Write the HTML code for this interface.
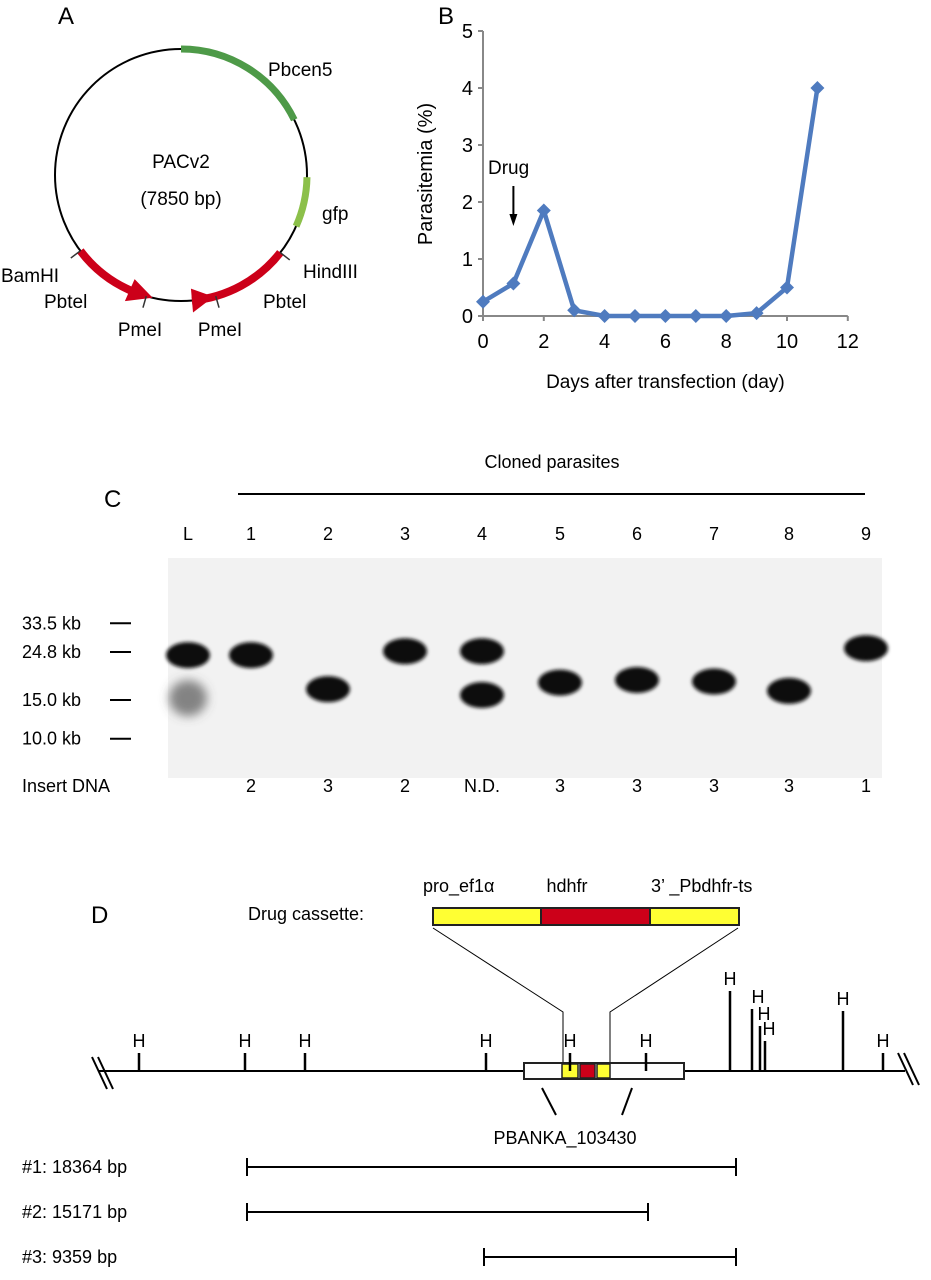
<!DOCTYPE html>
<html><head><meta charset="utf-8"><style>
body{margin:0;background:#fff}
svg{display:block;font-family:"Liberation Sans",sans-serif}
</style></head><body>
<svg id="fig" width="931" height="1280" viewBox="0 0 931 1280">
<defs>
<filter id="blur" x="-50%" y="-50%" width="200%" height="200%"><feGaussianBlur stdDeviation="1.8"/></filter>
<filter id="blur2" x="-50%" y="-50%" width="200%" height="200%"><feGaussianBlur stdDeviation="5"/></filter>
</defs>
<g id="panelA">
<text x="58" y="24" font-size="24">A</text>
</g>
<g id="panelB">
<text x="438" y="24" font-size="24">B</text>
</g>
<g id="panelC">
<text x="104" y="507" font-size="24">C</text>
<text x="552" y="468" font-size="18" text-anchor="middle">Cloned parasites</text>
<line x1="238" y1="494" x2="865" y2="494" stroke="#000" stroke-width="2"/>
<rect x="168" y="558" width="714" height="220" fill="#f2f2f2"/>
<text x="22" y="792" font-size="18">Insert DNA</text>
</g>
<g id="panelD">
<text x="91" y="923" font-size="24">D</text>
<text x="248" y="920" font-size="18">Drug cassette:</text>
<text x="423" y="892" font-size="18">pro_ef1α</text>
<text x="567" y="892" font-size="18" text-anchor="middle">hdhfr</text>
<text x="651" y="892" font-size="18">3’ _Pbdhfr-ts</text>
<rect x="433" y="908" width="108" height="17" fill="#ffff33" stroke="#222" stroke-width="2"/>
<rect x="541" y="908" width="109" height="17" fill="#cc0019" stroke="#222" stroke-width="2"/>
<rect x="650" y="908" width="89" height="17" fill="#ffff33" stroke="#222" stroke-width="2"/>
<polyline points="433,928 563,1012 563,1064" fill="none" stroke="#000" stroke-width="1"/>
<polyline points="738,928 610,1012 610,1064" fill="none" stroke="#000" stroke-width="1"/>
<line x1="98" y1="1071" x2="905" y2="1071" stroke="#000" stroke-width="2"/>
<line x1="92" y1="1057" x2="107" y2="1089" stroke="#000" stroke-width="2"/>
<line x1="98" y1="1057" x2="113" y2="1089" stroke="#000" stroke-width="2"/>
<line x1="898" y1="1053" x2="913" y2="1085" stroke="#000" stroke-width="2"/>
<line x1="904" y1="1053" x2="919" y2="1085" stroke="#000" stroke-width="2"/>
<rect x="524" y="1063" width="160" height="16" fill="#fff" stroke="#222" stroke-width="2"/>
<rect x="562" y="1064" width="16" height="14" fill="#ffff33" stroke="#222" stroke-width="1.5"/>
<rect x="580" y="1064" width="15" height="14" fill="#cc0019" stroke="#222" stroke-width="1.5"/>
<rect x="597" y="1064" width="13" height="14" fill="#ffff33" stroke="#222" stroke-width="1.5"/>
<line x1="542" y1="1088" x2="556" y2="1115" stroke="#000" stroke-width="2"/>
<line x1="632" y1="1088" x2="622" y2="1115" stroke="#000" stroke-width="2"/>
<text x="565" y="1144" font-size="18" text-anchor="middle">PBANKA_103430</text>
</g>
<script>
var NS='http://www.w3.org/2000/svg';
var svg=document.getElementById('fig');
function mk(parent,tag,attrs,txt){var e=document.createElementNS(NS,tag);for(var k in attrs)e.setAttribute(k,attrs[k]);if(txt!==undefined)e.textContent=txt;parent.appendChild(e);return e;}

/* ---- Panel B data ---- */
var days=[0,1,2,3,4,5,6,7,8,9,10,11];
var parasitemia=[0.25,0.57,1.85,0.1,0,0,0,0,0,0.05,0.5,4.0];
var xTicks=[0,2,4,6,8,10,12];
var yTicks=[0,1,2,3,4,5];
/* ---- Panel C data ---- */
var laneLabels=['L','1','2','3','4','5','6','7','8','9'];
var insertDNA=['','2','3','2','N.D.','3','3','3','3','1'];
var markerLabels=['33.5 kb','24.8 kb','15.0 kb','10.0 kb'];
var markerSizes=[33.5,24.8,15.0,10.0];
var bandLane=[0,0,1,2,3,4,4,5,6,7,8,9];
var bandSize=[24.0,15.3,24.0,16.8,25.0,25.0,15.8,18.0,18.5,18.2,16.5,25.8];
var bandStrength=[1,0.45,1,1,1,1,1,0.95,1,1,1,1];
/* ---- Panel D data ---- */
var hindPos=[139,245,305,486,570,646,730,752,760,765,843,883];
var hindLen=[18,18,18,18,18,18,80,62,45,30,60,18];
var fragNames=['#1: 18364 bp','#2: 15171 bp','#3: 9359 bp'];
var fragStart=[247,247,484];
var fragEnd=[736,648,736];

/* Panel A */
(function(){
 var g=document.getElementById('panelA');
 var cx=181,cy=175,r=126;
 function pt(a,rr){var t=a*Math.PI/180;return [cx+(rr||r)*Math.cos(t),cy+(rr||r)*Math.sin(t)];}
 function arc(a1,a2,rr){var p1=pt(a1,rr),p2=pt(a2,rr);var sw=a2>a1?1:0;var large=Math.abs(a2-a1)>180?1:0;return 'M'+p1[0]+','+p1[1]+' A'+(rr||r)+','+(rr||r)+' 0 '+large+' '+sw+' '+p2[0]+','+p2[1];}
 var c=mk(g,'circle',{cx:cx,cy:cy,r:r,fill:'none',stroke:'#000','stroke-width':2});
 
 var a=mk(g,'path',{d:arc(-90,-26),fill:'none',stroke:'#4e9a48','stroke-width':7});
 
 a=mk(g,'path',{d:arc(1,24),fill:'none',stroke:'#8cc04a','stroke-width':7});
 
 a=mk(g,'path',{d:arc(143,113),fill:'none',stroke:'#cc0019','stroke-width':8});
 
 var t=pt(103),b1=pt(114,r-12),b2=pt(114,r+12);
 a=mk(g,'polygon',{points:t.join(',')+' '+b1.join(',')+' '+b2.join(','),fill:'#cc0019'});
 
 a=mk(g,'path',{d:arc(38,85),fill:'none',stroke:'#cc0019','stroke-width':8});
 
 t=pt(75);b1=pt(85,r-12);b2=pt(85,r+12);
 a=mk(g,'polygon',{points:t.join(',')+' '+b1.join(',')+' '+b2.join(','),fill:'#cc0019'});
 
 var ticks=[[143],[38],[106],[74]];
 ticks.forEach(function(tk){var p1=pt(tk[0],r),p2=pt(tk[0],r+12);var l=mk(g,'line',{x1:p1[0],y1:p1[1],x2:p2[0],y2:p2[1],stroke:'#333','stroke-width':1.5});
 });
 var labels=[['Pbcen5',268,76,'start'],['PACv2',181,168,'middle'],['(7850 bp)',181,205,'middle'],['gfp',322,220,'start'],['HindIII',303,278,'start'],['Pbtel',263,308,'start'],['BamHI',1,282,'start'],['Pbtel',44,308,'start'],['PmeI',140,336,'middle'],['PmeI',220,336,'middle']];
 labels.forEach(function(L){var e=mk(g,'text',{x:L[1],y:L[2],'font-size':19,'text-anchor':L[3]},L[0]);
 });
})();

/* Panel B */
(function(){
 var g=document.getElementById('panelB');
 function X(v){return 483+v*30.4;}
 function Y(v){return 316-v*57;}
 var ax=mk(g,'line',{x1:X(0),y1:Y(0),x2:X(0),y2:Y(5),stroke:'#888','stroke-width':2});
 
 ax=mk(g,'line',{x1:X(0),y1:Y(0),x2:X(12),y2:Y(0),stroke:'#888','stroke-width':2});
 
 yTicks.forEach(function(v){var l=mk(g,'line',{x1:X(0)-5,y1:Y(v),x2:X(0),y2:Y(v),stroke:'#888','stroke-width':2});
 
 var t=mk(g,'text',{x:X(0)-10,y:Y(v)+7,'font-size':20,'text-anchor':'end'},String(v));
 });
 xTicks.forEach(function(v){var l=mk(g,'line',{x1:X(v),y1:Y(0),x2:X(v),y2:Y(0)+5,stroke:'#888','stroke-width':2});
 
 var t=mk(g,'text',{x:X(v),y:Y(0)+32,'font-size':20,'text-anchor':'middle'},String(v));
 });
 var t=mk(g,'text',{x:X(6),y:388,'font-size':19,'text-anchor':'middle'},'Days after transfection (day)');
 
 t=mk(g,'text',{x:0,y:0,'font-size':20,'text-anchor':'middle',transform:'translate(432,174) rotate(-90)'},'Parasitemia (%)');
 
 var pts=days.map(function(d,i){return X(d)+','+Y(parasitemia[i]);}).join(' ');
 var pl=mk(g,'polyline',{points:pts,fill:'none',stroke:'#4f7bbf','stroke-width':4.5,'stroke-linejoin':'round'});
 
 days.forEach(function(d,i){var x=X(d),y=Y(parasitemia[i]);var m=mk(g,'polygon',{points:(x)+','+(y-7)+' '+(x+7)+','+y+' '+x+','+(y+7)+' '+(x-7)+','+y,fill:'#4f7bbf'});
 });
 t=mk(g,'text',{x:488,y:174,'font-size':19},'Drug');
 
 var l=mk(g,'line',{x1:X(1),y1:186,x2:X(1),y2:220,stroke:'#000','stroke-width':2});
 
 mk(g,'polygon',{points:(X(1)-4)+',214 '+(X(1)+4)+',214 '+X(1)+',226',fill:'#000'});
})();

/* Panel C */
(function(){
 var g=document.getElementById('panelC');
 var laneX=[188,251,328,405,482,560,637,714,789,866];
 function Ykb(s){return 700-(Math.log(s)-Math.log(15))/(Math.log(24.8)-Math.log(15))*48;}
 laneLabels.forEach(function(L,i){var t=mk(g,'text',{x:laneX[i],y:540,'font-size':18,'text-anchor':'middle'},L);
 
 var d=mk(g,'text',{x:laneX[i],y:792,'font-size':18,'text-anchor':'middle'},insertDNA[i]);
 });
 markerLabels.forEach(function(L,i){var y=Ykb(markerSizes[i]);
 var t=mk(g,'text',{x:22,y:y+6,'font-size':18},L);
 
 var l=mk(g,'line',{x1:110,y1:y,x2:131,y2:y,stroke:'#000','stroke-width':2});
 });
 bandLane.forEach(function(li,i){var s=bandStrength[i];var e=mk(g,'ellipse',{cx:laneX[li],cy:Ykb(bandSize[i]),rx:s<0.6?19:22,ry:s<0.6?18:13,fill:s<0.6?'#555':'#111','fill-opacity':s<0.6?0.7:1,filter:s<0.6?'url(#blur2)':'url(#blur)'});
 });
})();

/* Panel D */
(function(){
 var g=document.getElementById('panelD');
 hindPos.forEach(function(x,i){var l=mk(g,'line',{x1:x,y1:1071,x2:x,y2:1071-hindLen[i],stroke:'#000','stroke-width':2.5});
 
 var off=[0,0,0,0,0,0,0,6,4,4,0,0][i];
 var t=mk(g,'text',{x:x+off,y:1071-hindLen[i]-6,'font-size':18,'text-anchor':'middle'},'H');
 });
 fragNames.forEach(function(n,i){var y=1167+i*45;
 var t=mk(g,'text',{x:22,y:y+6,'font-size':18},n);
 
 var l=mk(g,'line',{x1:fragStart[i],y1:y,x2:fragEnd[i],y2:y,stroke:'#000','stroke-width':2});
 
 mk(g,'line',{x1:fragStart[i],y1:y-9,x2:fragStart[i],y2:y+9,stroke:'#000','stroke-width':2});
 mk(g,'line',{x1:fragEnd[i],y1:y-9,x2:fragEnd[i],y2:y+9,stroke:'#000','stroke-width':2});});
})();
</script>
</svg>
</body></html>
